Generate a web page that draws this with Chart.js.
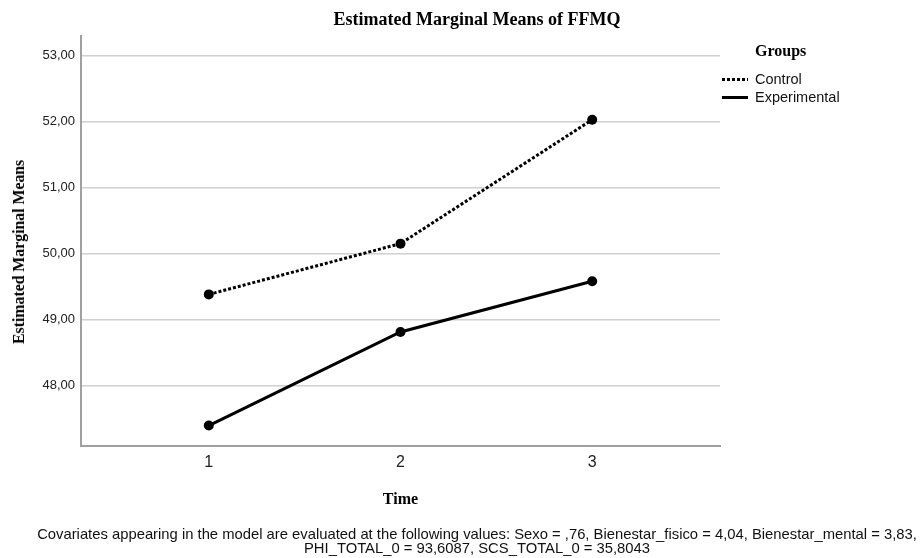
<!DOCTYPE html>
<html>
<head>
<meta charset="utf-8">
<script src="https://cdn.jsdelivr.net/npm/chart.js@4"></script>
<style>
  html, body { margin: 0; padding: 0; background: #fff; }
  #wrap { position: relative; width: 921px; height: 558px; }
  #chart { position: absolute; left: 0; top: 0; }
  .title { position: absolute; left: 277px; width: 400px; top: 9px; text-align: center;
           font: bold 18px "Liberation Serif", serif; color: #000; white-space: nowrap; }
  .ytitle { position: absolute; left: 19px; top: 252px; width: 0; height: 0; }
  .ytitle span { position: absolute; left: 0; top: 0; transform: translate(-50%, -50%) rotate(-90deg);
                 font: bold 16px "Liberation Serif", serif; white-space: nowrap; color: #000; letter-spacing: -0.1px; }
  .legend { position: absolute; left: 722px; top: 41px; font-family: "Liberation Sans", Arial, sans-serif; }
  .legend .head { position: absolute; left: 33px; top: 1px; font: bold 16px "Liberation Serif", serif; white-space: nowrap; }
  .legend .item { position: absolute; left: 0; white-space: nowrap; font-size: 14.5px; line-height: 16px; color: #111; }
  .legend .swatch { display: inline-block; width: 26px; height: 3px; vertical-align: middle; margin-right: 7px; position: relative; top: -1px; }
  .dotted { background: repeating-linear-gradient(90deg, #000 0 3px, transparent 3px 5px); }
  .solid { background: #000; }
  .note { position: absolute; left: 0; width: 954px; top: 527px; text-align: center;
          font: 14.8px/14px "Liberation Sans", Arial, sans-serif; color: #111; white-space: nowrap; }
</style>
</head>
<body>
<div id="wrap">
  <canvas id="chart" width="921" height="558"></canvas>
  <div class="title">Estimated Marginal Means of FFMQ</div>
  <div class="ytitle"><span>Estimated Marginal Means</span></div>
  <div class="legend">
    <div class="head">Groups</div>
    <div class="item" style="top:30px"><span class="swatch dotted"></span>Control</div>
    <div class="item" style="top:48px"><span class="swatch solid"></span>Experimental</div>
  </div>
  <div class="note">Covariates appearing in the model are evaluated at the following values: Sexo = ,76, Bienestar_fisico = 4,04, Bienestar_mental = 3,83,<br>PHI_TOTAL_0 = 93,6087, SCS_TOTAL_0 = 35,8043</div>
</div>
<script>
const times = [1, 2, 3];
const controlMeans = [49.38, 50.15, 52.03];
const experimentalMeans = [47.39, 48.81, 49.58];
const yTicks = [48, 49, 50, 51, 52, 53];

const toPoints = vals => times.map((t, i) => ({ x: t, y: vals[i] }));

new Chart(document.getElementById("chart"), {
  type: "line",
  data: {
    datasets: [
      {
        label: "Control",
        data: toPoints(controlMeans),
        borderColor: "#000",
        backgroundColor: "#000",
        borderWidth: 3,
        borderDash: [3, 2],
        pointRadius: 5,
        pointBorderWidth: 0,
        tension: 0,
      },
      {
        label: "Experimental",
        data: toPoints(experimentalMeans),
        borderColor: "#000",
        backgroundColor: "#000",
        borderWidth: 3,
        pointRadius: 5,
        pointBorderWidth: 0,
        tension: 0,
      },
    ],
  },
  options: {
    responsive: false,
    animation: false,
    layout: { padding: { left: 0, right: 201, top: 36, bottom: 0 } },
    plugins: { legend: { display: false }, tooltip: { enabled: false }, title: { display: false } },
    scales: {
      x: {
        type: "linear",
        min: 1 / 3,
        max: 3 + 2 / 3,
        afterBuildTicks: s => { s.ticks = times.map(v => ({ value: v })); },
        afterFit: s => { s.height = 112; },
        grid: { display: false, drawTicks: false },
        border: { display: true, color: "#a0a0a0", width: 2 },
        ticks: {
          padding: 7,
          color: "#222",
          font: { family: "Liberation Sans", size: 16 },
          callback: v => String(v),
        },
        title: {
          display: true,
          text: "Time",
          color: "#000",
          padding: { top: 0, bottom: 49 },
          font: { family: "Liberation Serif", size: 16, weight: "bold" },
        },
      },
      y: {
        min: 47.08,
        max: 53.3,
        afterBuildTicks: s => { s.ticks = yTicks.map(v => ({ value: v })); },
        afterFit: s => { s.width = 81; },
        grid: { color: "#d0d0d0", lineWidth: 1.5, drawTicks: false },
        border: { display: true, color: "#a0a0a0", width: 2 },
        ticks: {
          padding: 6,
          color: "#222",
          font: { family: "Liberation Sans", size: 13 },
          callback: v => v.toFixed(2).replace(".", ","),
        },
        title: { display: false },
      },
    },
  },
});
</script>
</body>
</html>
